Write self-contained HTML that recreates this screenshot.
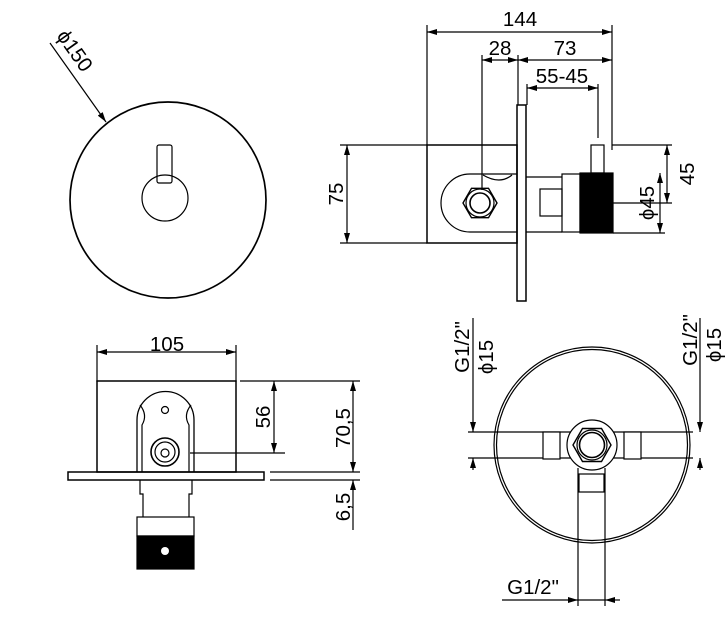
<!DOCTYPE html>
<html><head><style>body{margin:0;background:#fff}svg{display:block}</style></head><body>
<svg width="727" height="621" viewBox="0 0 727 621" xmlns="http://www.w3.org/2000/svg" font-family="Liberation Sans, sans-serif" font-size="20.5">
<defs>
<marker id="a" viewBox="0 0 10 6" refX="10" refY="3" markerWidth="11" markerHeight="6" orient="auto-start-reverse" markerUnits="userSpaceOnUse"><path d="M0,0L10,3L0,6z"/></marker>
</defs>
<g fill="none" stroke="#000" stroke-width="1.2">
<circle cx="168" cy="200" r="98" stroke-width="1.7"/>
<rect x="157" y="145" width="15" height="38" rx="2"/>
<circle cx="165" cy="198" r="23"/>
<line x1="50" y1="43" x2="106" y2="122" marker-end="url(#a)"/>

<line x1="427" y1="25" x2="427" y2="145"/>
<line x1="612" y1="25" x2="612" y2="150"/>
<line x1="427" y1="32" x2="612" y2="32" marker-start="url(#a)" marker-end="url(#a)"/>
<line x1="482" y1="55" x2="482" y2="190"/>
<line x1="518" y1="55" x2="518" y2="105"/>
<line x1="482" y1="60" x2="518" y2="60" marker-start="url(#a)" marker-end="url(#a)"/>
<line x1="518" y1="60" x2="612" y2="60" marker-start="url(#a)" marker-end="url(#a)"/>
<line x1="527" y1="84" x2="527" y2="105"/>
<line x1="598" y1="84" x2="598" y2="138"/>
<line x1="527" y1="88" x2="598" y2="88" marker-start="url(#a)" marker-end="url(#a)"/>
<rect x="517" y="105" width="9" height="196" stroke-width="1.5"/>
<rect x="427" y="145" width="90" height="98" stroke-width="1.5"/>
<path d="M517,174 H470 A29,29 0 0 0 470,232 H517" />
<path d="M483,175 Q500,185 512,175"/>
<polygon points="497,203 488.5,217.7 471.5,217.7 463,203 471.5,188.3 488.5,188.3" stroke-width="1.4"/>
<circle cx="480" cy="203" r="14"/>
<circle cx="480" cy="203" r="10" stroke-width="1.6"/>
<path d="M526,177 H562 M526,232 H562"/>
<rect x="540" y="189" width="22" height="27"/>
<rect x="562" y="174" width="18" height="58"/>
<rect x="580" y="173" width="33" height="60" fill="#000"/>
<rect x="591" y="145" width="13" height="28"/>
<line x1="605" y1="203" x2="640" y2="203"/>
<line x1="340" y1="145" x2="427" y2="145"/>
<line x1="340" y1="243" x2="427" y2="243"/>
<line x1="347" y1="145" x2="347" y2="243" marker-start="url(#a)" marker-end="url(#a)"/>
<line x1="612" y1="145" x2="672" y2="145"/>
<line x1="640" y1="203" x2="672" y2="203"/>
<line x1="667" y1="145" x2="667" y2="203" marker-start="url(#a)" marker-end="url(#a)"/>
<line x1="613" y1="233" x2="665" y2="233"/>
<line x1="660" y1="173" x2="660" y2="233" marker-start="url(#a)" marker-end="url(#a)"/>

<line x1="97" y1="345" x2="97" y2="382"/>
<line x1="236" y1="345" x2="236" y2="382"/>
<line x1="97" y1="352" x2="236" y2="352" marker-start="url(#a)" marker-end="url(#a)"/>
<rect x="97" y="381" width="139" height="91" stroke-width="1.5"/>
<rect x="68" y="472" width="196" height="8" stroke-width="1.5"/>
<path d="M137,472 V420 A28,28 0 0 1 194,420 V472" stroke-width="1.3"/>
<path d="M142,472 V425 Q148,415 140,405 M189,472 V425 Q183,415 191,405"/>
<circle cx="165" cy="410" r="3.5"/>
<circle cx="165" cy="452" r="14" stroke-width="1.6"/>
<circle cx="165" cy="452" r="10"/>
<circle cx="165" cy="453" r="4"/>
<path d="M140,480 V494 H143 V517 M192,480 V494 H189 V517"/>
<rect x="137" y="517" width="57" height="19"/>
<rect x="137" y="536" width="57" height="33" fill="#000"/>
<circle cx="165" cy="551" r="4" fill="#fff" stroke="none"/>
<line x1="240" y1="381" x2="360" y2="381"/>
<line x1="190" y1="453" x2="285" y2="453"/>
<line x1="274" y1="381" x2="274" y2="453" marker-start="url(#a)" marker-end="url(#a)"/>
<line x1="270" y1="472" x2="360" y2="472"/>
<line x1="270" y1="480" x2="360" y2="480"/>
<line x1="353" y1="381" x2="353" y2="472" marker-start="url(#a)" marker-end="url(#a)"/>
<line x1="353" y1="530" x2="353" y2="480" marker-end="url(#a)"/>

<circle cx="592" cy="445" r="98"/>
<circle cx="592" cy="445" r="95.5"/>
<line x1="468" y1="432" x2="693" y2="432"/>
<line x1="468" y1="458" x2="693" y2="458"/>
<line x1="578" y1="468" x2="578" y2="606"/>
<line x1="605" y1="468" x2="605" y2="606"/>
<rect x="543" y="432" width="17" height="27" fill="#fff"/>
<rect x="624" y="432" width="17" height="27" fill="#fff"/>
<rect x="579" y="474" width="25" height="18" fill="#fff"/>
<circle cx="592" cy="445" r="25" fill="#fff"/>
<polygon points="611,445 601.5,461.5 582.5,461.5 573,445 582.5,428.5 601.5,428.5" stroke-width="1.4"/>
<circle cx="592" cy="445" r="15"/>
<circle cx="592" cy="445" r="12.5" stroke-width="1.6"/>
<line x1="473" y1="318" x2="473" y2="432" marker-end="url(#a)"/>
<line x1="473" y1="470" x2="473" y2="458" marker-end="url(#a)"/>
<line x1="700" y1="318" x2="700" y2="432" marker-end="url(#a)"/>
<line x1="700" y1="470" x2="700" y2="458" marker-end="url(#a)"/>
<line x1="502" y1="600" x2="578" y2="600" marker-end="url(#a)"/>
<line x1="620" y1="600" x2="605" y2="600" marker-end="url(#a)"/>
<line x1="578" y1="600" x2="605" y2="600"/>
</g>
<g fill="#000">
<text transform="translate(56,36) rotate(54.7)">ϕ150</text>
<text x="520" y="26" text-anchor="middle">144</text>
<text x="500" y="55" text-anchor="middle">28</text>
<text x="565" y="55" text-anchor="middle">73</text>
<text x="562" y="83" text-anchor="middle">55-45</text>
<text transform="translate(343,194) rotate(-90)" text-anchor="middle">75</text>
<text transform="translate(694,174) rotate(-90)" text-anchor="middle">45</text>
<text transform="translate(654,203) rotate(-90)" text-anchor="middle">ϕ45</text>
<text x="167" y="351" text-anchor="middle">105</text>
<text transform="translate(270,417) rotate(-90)" text-anchor="middle">56</text>
<text transform="translate(350,428) rotate(-90)" text-anchor="middle">70,5</text>
<text transform="translate(350,507) rotate(-90)" text-anchor="middle">6,5</text>
<text transform="translate(469,347) rotate(-90)" text-anchor="middle">G1/2"</text>
<text transform="translate(493,357) rotate(-90)" text-anchor="middle">ϕ15</text>
<text transform="translate(697,340) rotate(-90)" text-anchor="middle">G1/2"</text>
<text transform="translate(721,345) rotate(-90)" text-anchor="middle">ϕ15</text>
<text x="533" y="594" text-anchor="middle">G1/2"</text>
</g>
</svg>
</body></html>
